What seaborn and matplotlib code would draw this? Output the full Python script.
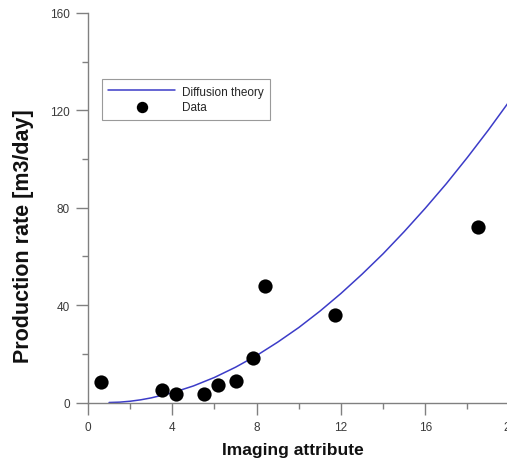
import matplotlib
matplotlib.use("Agg")
import matplotlib.pyplot as plt
from matplotlib.ticker import MultipleLocator
import seaborn as sns
import pandas as pd

# Data points
data_x = [0.60, 3.53, 4.18, 5.51, 6.19, 7.02, 7.83, 8.41, 11.71, 18.5]
data_y = [8.5, 5.1, 3.4, 3.4, 7.1, 8.8, 18.1, 48.0, 35.9, 72.0]

# Diffusion-theory curve
curve_x = [1.0, 1.5, 2.0, 2.5, 3.0, 4.0, 5.0, 6.0, 7.0, 8.0, 9.0, 10.0, 11.0,
           12.0, 13.0, 14.0, 15.0, 16.0, 17.0, 18.0, 19.0, 20.0]
curve_y = [0.0, 0.14, 0.52, 1.1, 1.9, 4.0, 6.8, 10.3, 14.5, 19.3, 24.8, 30.8, 37.5,
           44.8, 52.7, 61.1, 70.2, 79.8, 89.9, 100.7, 112.0, 123.9]

x_ticks = [0, 4, 8, 12, 16, 20]
y_ticks = [0, 40, 80, 120, 160]

curve_df = pd.DataFrame({"x": curve_x, "y": curve_y})
data_df = pd.DataFrame({"x": data_x, "y": data_y})

sns.set_theme(style="ticks")
plt.rcParams["font.family"] = ["Liberation Sans", "DejaVu Sans"]

fig = plt.figure(figsize=(5.07, 4.6), dpi=100)
ax = fig.add_axes([88 / 507, 56.5 / 460, 421.6 / 507, 389.5 / 460])

sns.lineplot(data=curve_df, x="x", y="y", ax=ax, color="#3c3cc8", linewidth=1.1,
             label="Diffusion theory", sort=False)
sns.scatterplot(data=data_df, x="x", y="y", ax=ax, color="black", s=105,
                edgecolor="black", linewidth=0, label="Data", zorder=3)

ax.set_xlim(0, 20)
ax.set_ylim(0, 160)
ax.set_xticks(x_ticks)
ax.set_yticks(y_ticks)
ax.xaxis.set_minor_locator(MultipleLocator(2))
ax.yaxis.set_minor_locator(MultipleLocator(20))

gray = "#808080"
for side in ["top", "right"]:
    ax.spines[side].set_visible(False)
for side in ["left", "bottom"]:
    ax.spines[side].set_color(gray)
    ax.spines[side].set_linewidth(1.0)

ax.tick_params(axis="both", which="major", direction="out", length=8.6, width=1.0,
               color=gray, labelsize=8.5, labelcolor="#3a3a3a")
ax.tick_params(axis="both", which="minor", direction="out", length=4.5, width=1.0,
               color=gray)
ax.tick_params(axis="x", which="major", pad=5.0)
ax.tick_params(axis="y", which="major", pad=4.5)

ax.set_xlabel("Imaging attribute", fontsize=12.5, fontweight="bold", color="#111111")
ax.set_ylabel("Production rate [m3/day]", fontsize=15.5, fontweight="bold", color="#111111")
ax.xaxis.set_label_coords(0.486, -0.101)
ax.xaxis.label.set_va("top")
ax.yaxis.set_label_coords(-0.128, 0.43)

leg = ax.legend(loc="upper left", bbox_to_anchor=(0.0325, 0.7297, 0.3992, 0.1008),
                mode="expand", borderaxespad=0, fontsize=8.5, frameon=True,
                fancybox=False, framealpha=1, edgecolor="#9a9a9a",
                handlelength=5.7, handletextpad=0.55, borderpad=0.55,
                labelspacing=0.3, markerscale=0.8)
leg.get_frame().set_linewidth(0.8)

ax.set_facecolor("white")
fig.patch.set_facecolor("white")
fig.savefig("out.png", dpi=100)
